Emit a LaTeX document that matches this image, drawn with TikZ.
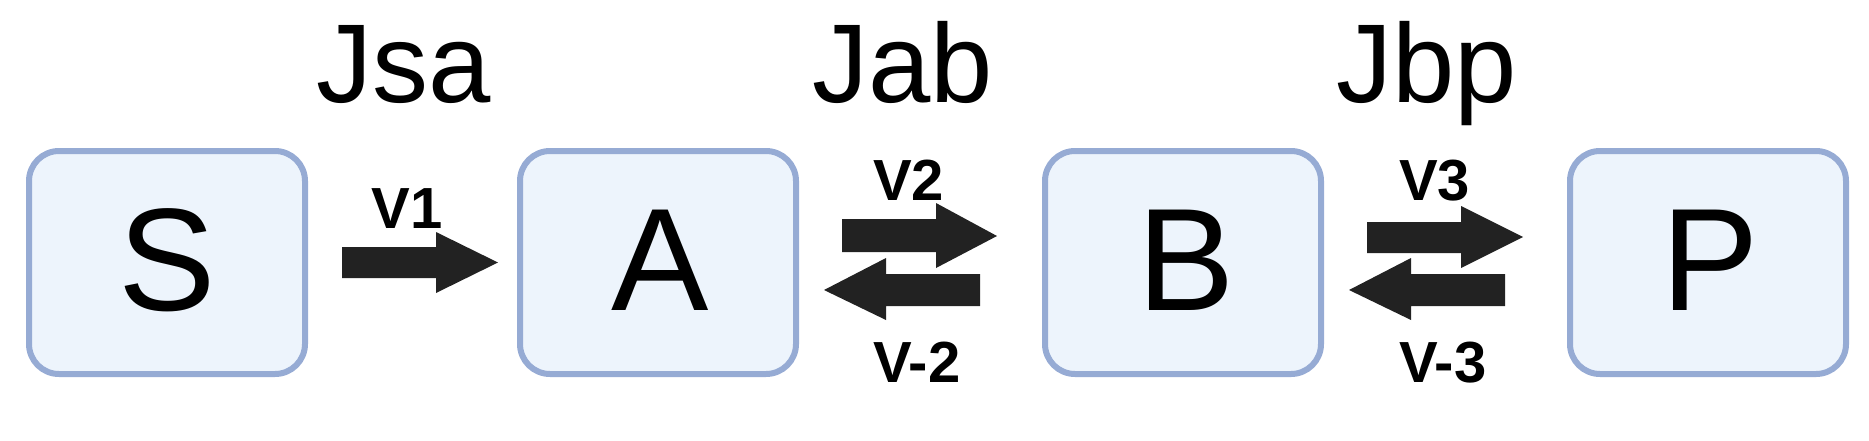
\documentclass[tikz,border=0pt]{standalone}
\usepackage{fontspec}
\setmainfont{Liberation Sans}
\begin{document}
\begin{tikzpicture}[x=1pt,y=-1pt,
  box/.style={draw=boxline,fill=boxfill,line width=6pt,rounded corners=30pt,
    minimum width=276pt,minimum height=223pt,inner sep=0pt},
  bigletter/.style={anchor=base,inner sep=0pt,font=\fontsize{146}{146}\selectfont},
  fluxlabel/.style={anchor=base,inner sep=0pt,font=\fontsize{112}{112}\selectfont},
  ratelabel/.style={inner sep=0pt,font=\fontsize{58}{58}\selectfont\bfseries},
  fatarrow/.style={fill=arrowgray,draw=none}]
\definecolor{boxline}{HTML}{96ABD4}
\definecolor{boxfill}{HTML}{EDF4FC}
\definecolor{arrowgray}{HTML}{222222}
\useasboundingbox (0,0) rectangle (1869,440);
% boxes
\node[box] (S) at (167,262.5) {};
\node[box] (A) at (658,262.5) {};
\node[box] (B) at (1183,262.5) {};
\node[box] (P) at (1708,262.5) {};
\node[bigletter] (tS) at (167,310) {S};
\node[bigletter] (tA) at (660,310) {A};
\node[bigletter] (tB) at (1186,310) {B};
\node[bigletter] (tP) at (1710,310) {P};
% flux labels
\node[fluxlabel] (Jsa) at (404,102) {Jsa};
\node[fluxlabel] (Jab) at (903,102) {Jab};
\node[fluxlabel] (Jbp) at (1427,102) {Jbp};
% rate labels
\node[ratelabel,anchor=base] (v1) at (407,228) {V1};
\node[ratelabel,anchor=base west] (v2) at (873,200) {V2};
\node[ratelabel,anchor=base west] (vm2) at (873,382) {V-2};
\node[ratelabel,anchor=base west] (v3) at (1399,200) {V3};
\node[ratelabel,anchor=base west] (vm3) at (1399,382) {V-3};
% arrows
\fill[fatarrow] (342,247) -- (436,247) -- (436,232) -- (498,262.5) -- (436,293) -- (436,278) -- (342,278) -- cycle;
\fill[fatarrow] (842,219) -- (936,219) -- (936,203) -- (997,236) -- (936,268) -- (936,252) -- (842,252) -- cycle;
\fill[fatarrow] (980,274) -- (886,274) -- (886,258) -- (824,290) -- (886,320) -- (886,306) -- (980,306) -- cycle;
\fill[fatarrow] (1367,222) -- (1461,222) -- (1461,206) -- (1523,237) -- (1461,268) -- (1461,253) -- (1367,253) -- cycle;
\fill[fatarrow] (1505,274) -- (1411,274) -- (1411,258) -- (1349,290) -- (1411,320) -- (1411,306) -- (1505,306) -- cycle;
\end{tikzpicture}
\end{document}
